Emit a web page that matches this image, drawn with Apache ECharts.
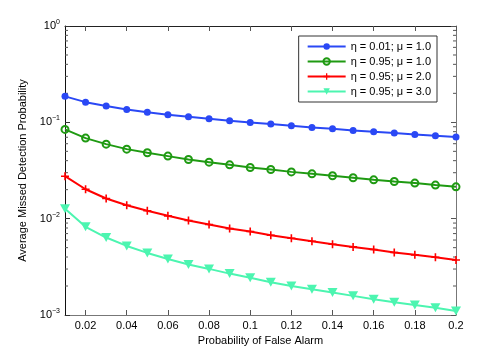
<!DOCTYPE html>
<html>
<head>
<meta charset="utf-8">
<script src="https://cdn.jsdelivr.net/npm/echarts@6/dist/echarts.min.js"></script>
<style>
  html, body { margin: 0; padding: 0; background: #fff; }
  #main { width: 504px; height: 354px; }
</style>
</head>
<body>
<div id="main"></div>
<script>
// x values (probability of false alarm)
var pfa = [0.01, 0.02, 0.03, 0.04, 0.05, 0.06, 0.07, 0.08, 0.09, 0.10,
           0.11, 0.12, 0.13, 0.14, 0.15, 0.16, 0.17, 0.18, 0.19, 0.20];

var eta001mu1 = [0.186, 0.162, 0.1475, 0.136, 0.127, 0.120, 0.114, 0.109, 0.104, 0.0998,
                 0.096, 0.092, 0.0885, 0.0857, 0.0824, 0.0798, 0.0773, 0.0748, 0.0725, 0.0703];
var eta095mu1 = [0.0844, 0.0686, 0.0594, 0.0527, 0.0483, 0.0446, 0.0411, 0.0386, 0.0362, 0.0340,
                 0.0324, 0.0306, 0.0292, 0.0279, 0.0266, 0.0253, 0.0243, 0.0234, 0.0223, 0.0214];
var eta095mu2 = [0.0276, 0.0202, 0.0162, 0.0138, 0.0121, 0.0107, 0.00957, 0.00869, 0.00789, 0.00735,
                 0.00673, 0.00626, 0.00583, 0.00543, 0.00509, 0.00478, 0.00445, 0.00421, 0.00398, 0.00373];
var eta095mu3 = [0.01264, 0.00822, 0.00637, 0.00521, 0.00441, 0.00382, 0.00334, 0.00301, 0.00269, 0.00243,
                 0.00219, 0.00200, 0.00185, 0.00171, 0.00158, 0.00146, 0.00136, 0.00127, 0.00119, 0.00110];

var seriesNames = ["η = 0.01; μ = 1.0", "η = 0.95; μ = 1.0", "η = 0.95; μ = 2.0", "η = 0.95; μ = 3.0"];

var xTicks = [0.02, 0.04, 0.06, 0.08, 0.1, 0.12, 0.14, 0.16, 0.18, 0.2];
var yMinorTicks = [0.002, 0.003, 0.004, 0.005, 0.006, 0.007, 0.008, 0.009,
                   0.02, 0.03, 0.04, 0.05, 0.06, 0.07, 0.08, 0.09,
                   0.2, 0.3, 0.4, 0.5, 0.6, 0.7, 0.8, 0.9];

function pairs(ys) {
  return ys.map(function (y, i) { return [pfa[i], y]; });
}

var font = "Liberation Sans";
var myChart = echarts.init(document.getElementById("main"), null, { renderer: "canvas" });

var lineW = 2;
myChart.setOption({
  animation: false,
  backgroundColor: "#fff",
  textStyle: { fontFamily: font },
  grid: { left: 65, right: 48, top: 26, bottom: 39 },
  legend: {
    orient: "vertical",
    right: 67,
    top: 36,
    backgroundColor: "#fff",
    borderColor: "#333",
    borderWidth: 1,
    borderRadius: 0,
    padding: [5, 6, 5, 8],
    itemGap: 4,
    itemWidth: 38,
    itemHeight: 8,
    textStyle: { fontFamily: font, fontSize: 11, color: "#000" },
    data: seriesNames
  },
  xAxis: [
    {
      type: "value",
      min: 0.01,
      max: 0.2,
      name: "Probability of False Alarm",
      nameLocation: "middle",
      nameGap: 17,
      nameTextStyle: { fontFamily: font, fontSize: 11, color: "#000" },
      axisLine: { show: true, onZero: false, lineStyle: { color: "#777", width: 1 } },
      axisTick: { show: true, inside: true, length: 5, customValues: xTicks, lineStyle: { color: "#555" } },
      axisLabel: {
        customValues: xTicks,
        margin: 5,
        fontSize: 11,
        color: "#000",
        fontFamily: font,
        formatter: function (v) { return String(+v.toFixed(2)); }
      },
      splitLine: { show: false }
    },
    {
      type: "value",
      position: "top",
      min: 0.01,
      max: 0.2,
      axisLine: { show: true, onZero: false, lineStyle: { color: "#222", width: 1 } },
      axisTick: { show: true, inside: true, length: 5, customValues: xTicks, lineStyle: { color: "#555" } },
      axisLabel: { show: false },
      splitLine: { show: false }
    }
  ],
  yAxis: [
    {
      type: "log",
      logBase: 10,
      min: 0.001,
      max: 1,
      name: "Average Missed Detection Probability",
      nameLocation: "middle",
      nameGap: 30,
      nameTextStyle: { fontFamily: font, fontSize: 11, color: "#000" },
      axisLine: { show: true, onZero: false, lineStyle: { color: "#111", width: 1 } },
      axisTick: { show: true, inside: true, length: 5, lineStyle: { color: "#333" } },
      axisLabel: {
        margin: 5,
        color: "#000",
        formatter: function (v) {
          var e = Math.round(Math.log10(v));
          var s = e < 0 ? "\u2212" + (-e) : String(e);
          return "{b|10}{s|" + s + "}";
        },
        rich: {
          b: { fontSize: 11, fontFamily: font, color: "#000" },
          s: { fontSize: 7, fontFamily: font, color: "#000", padding: [0, 0, 8, 0] }
        }
      },
      splitLine: { show: false }
    },
    {
      type: "log",
      logBase: 10,
      min: 0.001,
      max: 1,
      position: "right",
      axisLine: { show: true, onZero: false, lineStyle: { color: "#777", width: 1 } },
      axisTick: { show: true, inside: true, length: 5, lineStyle: { color: "#555" } },
      axisLabel: { show: false },
      splitLine: { show: false }
    }
  ],
  series: [
    {
      // log minor ticks on both sides of the box
      type: "custom",
      silent: true,
      data: yMinorTicks,
      encode: { y: 0 },
      renderItem: function (params, api) {
        var v = api.value(0);
        var l = api.coord([0.01, v]);
        var r = api.coord([0.2, v]);
        var st = { stroke: "#555", lineWidth: 1 };
        return {
          type: "group",
          children: [
            { type: "line", shape: { x1: l[0], y1: l[1], x2: l[0] + 3, y2: l[1] }, style: st },
            { type: "line", shape: { x1: r[0], y1: r[1], x2: r[0] - 3, y2: r[1] }, style: st }
          ]
        };
      },
      z: 1
    },
    {
      name: seriesNames[0],
      type: "line",
      data: pairs(eta001mu1),
      symbol: "circle",
      symbolSize: 7,
      lineStyle: { color: "#2a48f5", width: lineW },
      itemStyle: { color: "#2a48f5" },
      z: 5
    },
    {
      name: seriesNames[1],
      type: "line",
      data: pairs(eta095mu1),
      symbol: "circle",
      symbolSize: 7,
      lineStyle: { color: "#1f9a12", width: lineW },
      itemStyle: { color: "rgba(0,0,0,0)", borderColor: "#1f9a12", borderWidth: 2 },
      z: 5
    },
    {
      name: seriesNames[2],
      type: "line",
      data: pairs(eta095mu2),
      symbol: "path://M4,0h2v4h4v2h-4v4h-2v-4h-4v-2h4z",
      symbolSize: 8,
      lineStyle: { color: "#ff0000", width: lineW },
      itemStyle: { color: "#ff0000" },
      z: 5
    },
    {
      name: seriesNames[3],
      type: "line",
      data: pairs(eta095mu3),
      symbol: "triangle",
      symbolRotate: 180,
      symbolSize: [10, 9],
      lineStyle: { color: "#4cf5b0", width: lineW },
      itemStyle: { color: "#4cf5b0" },
      z: 5
    }
  ]
});
</script>
</body>
</html>
